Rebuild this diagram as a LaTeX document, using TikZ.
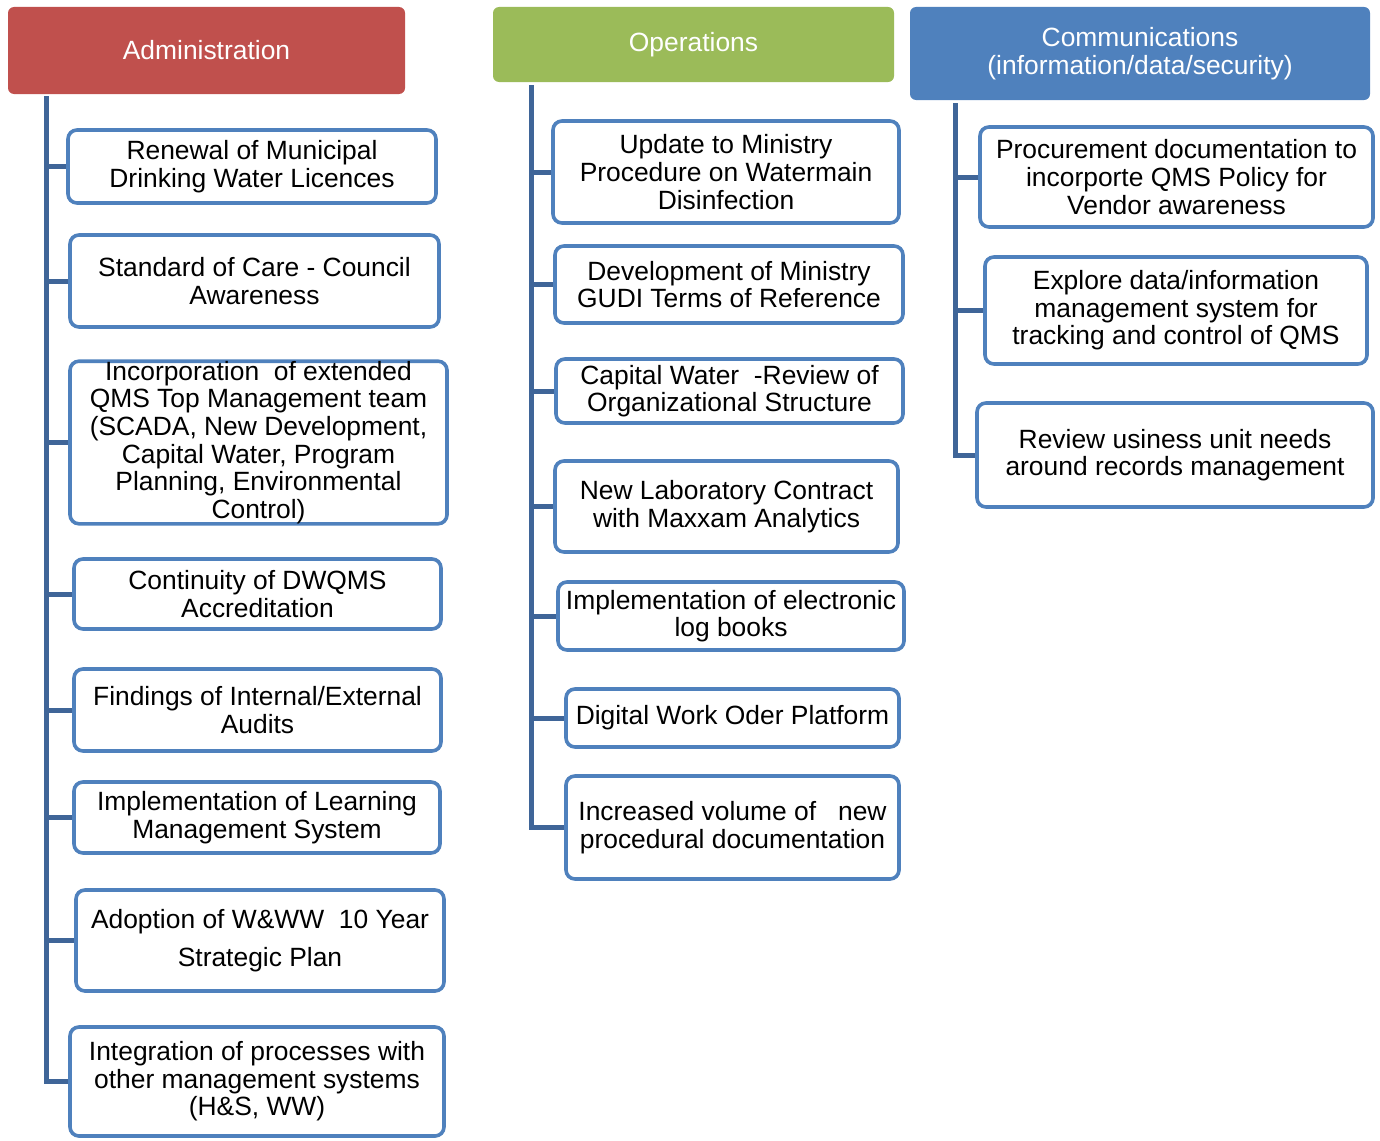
\documentclass[tikz,border=0pt]{standalone}
\usepackage{fontspec}
\setmainfont{Liberation Sans}
\definecolor{adminred}{HTML}{C0504D}
\definecolor{opsgreen}{HTML}{9BBB59}
\definecolor{commblue}{HTML}{4F81BD}
\definecolor{boxblue}{HTML}{4F81BD}
\definecolor{trunkblue}{HTML}{3F6598}
\tikzset{
  header/.style={fill=#1, draw=none, rounded corners=6pt, inner sep=0pt, align=center, text=white,
    font=\fontsize{26.4}{28}\selectfont},
  item/.style={draw=boxblue, line width=3.6pt, fill=white, rounded corners=9pt, inner sep=0pt,
    align=center, text=black, font=\fontsize{26.4}{27.6}\selectfont},
  trunk/.style={draw=trunkblue, line width=5pt, line join=miter}
}
\begin{document}
\begin{tikzpicture}[x=1pt,y=-1pt]
\useasboundingbox (0,0) rectangle (1380,1140);
% headers
\node[header=adminred, minimum width=397pt, minimum height=87pt] (hA) at (206.5,50.5) {Administration};
\node[header=opsgreen, minimum width=401pt, minimum height=75pt] (hO) at (693.5,44.5) {Operations};
\node[header=commblue, minimum width=460pt, minimum height=93pt] (hC) at (1140,53.5) {Communications\\(information/data/security)};
% trunk start points
\coordinate (tA) at (46,96);
\coordinate (tO) at (531,85);
\coordinate (tC) at (955,103);
% Administration boxes
\node[item, minimum width=368pt, minimum height=73pt] (a1) at (252,166.5) {Renewal of Municipal\\Drinking Water Licences};
\node[item, minimum width=369pt, minimum height=92pt] (a2) at (254.5,281) {Standard of Care - Council\\Awareness};
\node[item, minimum width=377pt, minimum height=159pt] (a3) at (258.5,442.5) {Incorporation\ \ of extended\\QMS Top Management team\\(SCADA, New Development,\\Capital Water, Program\\Planning, Environmental\\Control)};
\node[item, minimum width=367pt, minimum height=70pt] (a4) at (257.5,594) {Continuity of DWQMS\\Accreditation};
\node[item, minimum width=367pt, minimum height=82pt] (a5) at (257.5,710) {Findings of Internal/External\\Audits};
\node[item, minimum width=366pt, minimum height=71pt] (a6) at (257,817.5) {Implementation of Learning\\Management System};
\node[item, minimum width=368pt, minimum height=101pt] (a7) at (260,940.5) {Adoption of W\&WW\ \ 10 Year\\[10pt]Strategic Plan};
\node[item, minimum width=374pt, minimum height=109pt] (a8) at (257,1081.5) {Integration of processes with\\other management systems\\(H\&S, WW)};
% Operations boxes
\node[item, minimum width=346pt, minimum height=102pt] (o1) at (726,172) {Update to Ministry\\Procedure on Watermain\\Disinfection};
\node[item, minimum width=348pt, minimum height=77pt] (o2) at (729,284.5) {Development of Ministry\\GUDI Terms of Reference};
\node[item, minimum width=347pt, minimum height=64pt] (o3) at (729.5,391) {Capital Water\ \ -Review of\\Organizational Structure};
\node[item, minimum width=343pt, minimum height=91pt] (o4) at (726.5,506.5) {New Laboratory Contract\\with Maxxam Analytics};
\node[item, minimum width=346pt, minimum height=68pt] (o5) at (731,616) {Implementation of electronic\\log books};
\node[item, minimum width=333pt, minimum height=58pt] (o6) at (732.5,718) {Digital Work Oder Platform};
\node[item, minimum width=333pt, minimum height=103pt] (o7) at (732.5,827.5) {Increased volume of\ \ \ new\\procedural documentation};
% Communications boxes
\node[item, minimum width=393pt, minimum height=100pt] (c1) at (1176.5,177) {Procurement documentation to\\incorporte QMS Policy for\\Vendor awareness};
\node[item, minimum width=382pt, minimum height=107pt] (c2) at (1176,310.5) {Explore data/information\\management system for\\tracking and control of QMS};
\node[item, minimum width=396pt, minimum height=104pt] (c3) at (1175,455) {Review usiness unit needs\\around records management};
% connectors
\draw[trunk] (tA) |- (a8.west);
\foreach \n in {a1,a2,a3,a4,a5,a6,a7} \draw[trunk] (tA |- \n.west) -- (\n.west);
\draw[trunk] (tO) |- (o7.west);
\foreach \n in {o1,o2,o3,o4,o5,o6} \draw[trunk] (tO |- \n.west) -- (\n.west);
\draw[trunk] (tC) |- (c3.west);
\foreach \n in {c1,c2} \draw[trunk] (tC |- \n.west) -- (\n.west);
\end{tikzpicture}
\end{document}
